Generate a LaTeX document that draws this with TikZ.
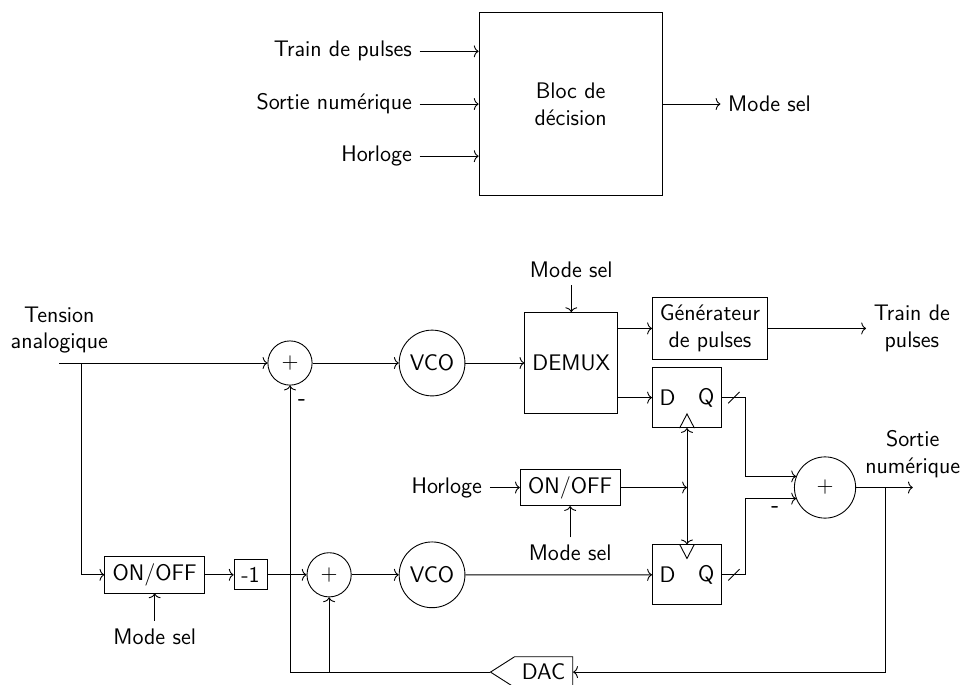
\documentclass[tikz,border=0pt]{standalone}
\usepackage{amsmath,amssymb}
\usetikzlibrary{arrows.meta,positioning,shapes.symbols}

\begin{document}
\begin{tikzpicture}[font=\fontsize{11.3}{13.5}\selectfont\sffamily,line width=0.45pt,
  >={Computer Modern Rightarrow[length=2.4pt,width=6pt]},inner sep=3.67pt,
  box/.style={draw,align=center,inner sep=0pt},
  sum/.style={draw,circle,minimum size=7.8mm,inner sep=0pt},
  vco/.style={draw,circle,minimum size=11.6mm,inner sep=0pt},
  onoff/.style={box,minimum width=17.6mm,minimum height=6.4mm},
  flop/.style={box,minimum width=12.2mm,minimum height=10.6mm},
  label/.style={align=center},
  minus/.style={font=\fontsize{11.3}{13.5}\selectfont\sffamily\bfseries}]
\useasboundingbox (0,0) rectangle (169.86mm,-120.65mm);
% decision block
\node[box,minimum size=32.3mm,align=center] (bloc) at (100.65mm,-18.35mm)
  {Bloc de\\ décision};
\node[label,left=10.4mm of bloc.west,yshift=9.3mm] (intrain) {Train de pulses};
\node[label,left=10.4mm of bloc.west] (insortie) {Sortie numérique};
\node[label,left=10.4mm of bloc.west,yshift=-9.2mm] (inhorloge) {Horloge};
\node[label,right=10.2mm of bloc.east] (outmode) {Mode sel};
\draw[->] (intrain) -- (intrain -| bloc.west);
\draw[->] (insortie) -- (insortie -| bloc.west);
\draw[->] (inhorloge) -- (inhorloge -| bloc.west);
\draw[->] (bloc) -- (outmode);
% upper branch
\node[sum] (sumh) at (51.15mm,-64.03mm) {$+$};
\node[vco,right=15.2mm of sumh] (vcoh) {VCO};
\node[box,right=10.4mm of vcoh,minimum width=16.4mm,minimum height=17.8mm] (demux) {DEMUX};
\node[label,above=4.7mm of demux] (modedemux) {Mode sel};
\node[box,right=5.95mm of demux.east,yshift=6.1mm,minimum width=20.3mm,minimum height=11mm] (gen)
  {Générateur\\ de pulses};
\node[flop,right=5.95mm of demux.east,yshift=-6.1mm] (dffh) {};
\node[right] (dh) at (dffh.west) {D};
\node[left] (qh) at (dffh.east) {Q};
\node[label,right=17.3mm of gen] (outtrain) {Train de\\ pulses};
\coordinate[left=36.7mm of sumh.west] (in);
\node[label,above=0.3mm of in] (tension) {Tension\\ analogique};
% clocked part
\node[box,onoff,below=9.7mm of demux,xshift=-0.2mm] (onoffm) {ON/OFF};
\node[label,left=5.3mm of onoffm] (horloge) {Horloge};
\node[label,below=5.5mm of onoffm] (modeonoff) {Mode sel};
\node[flop,below=20.5mm of dffh] (dffb) {};
\node[right] (db) at (dffb.west) {D};
\node[left] (qb) at (dffb.east) {Q};
\node[sum,right=30.6mm of onoffm,minimum size=10.8mm] (sumn) {$+$};
\coordinate[right=10mm of sumn.east] (out);
\coordinate[right=5.1mm of sumn.east] (tap);
\node[label,above=0.3mm of out] (sortie) {Sortie\\ numérique};
% lower branch
\node[vco,below=25.6mm of vcoh] (vcob) {VCO};
\node[sum,left=8.3mm of vcob] (sumb) {$+$};
\node[box,left=6.9mm of sumb,minimum width=5.8mm,minimum height=5.3mm] (neg) {-1};
\node[box,onoff,left=5.05mm of neg] (onoffb) {ON/OFF};
\node[label,below=4.85mm of onoffb] (modeb) {Mode sel};
\coordinate[left=4mm of onoffb.west] (branch);
\node[draw,signal,signal to=west,signal pointer angle=65,inner sep=0pt,minimum width=14.5mm,minimum height=5.4mm,
  below left=9mm and 13.9mm of dffb.south west] (dac) {DAC};
% connectors
\draw[->] (modedemux) -- (demux);
\draw[->] (in) -- (sumh);
\draw[->] (sumh) -- (vcoh);
\draw[->] (vcoh) -- (demux);
\draw[->] (demux.east |- gen) -- (gen);
\draw[->] (demux.east |- dffh) -- (dffh);
\draw[->] (gen) -- (outtrain);
\draw[->] (horloge) -- (onoffm);
\draw[->] (modeonoff) -- (onoffm);
\draw[->] (onoffm) -- (onoffm -| dffh.south);
\draw[<->] (dffh.south) -- (dffb.north);
\draw[->] (branch |- in) -- (branch) -- (onoffb);
\draw[->] (modeb) -- (onoffb);
\draw[->] (onoffb) -- (neg);
\draw[->] (neg) -- (sumb);
\draw[->] (sumb) -- (vcob);
\draw[->] (vcob) -- (dffb);
\draw[->] (sumn) -- (out);
\draw[->] (tap) |- (dac.east);
\draw[->] (dac.west) -| node[minus,pos=0.97,right]{-} (sumh);
\draw[->] (sumb |- dac.west) -- (sumb);
\draw[->] (dffh.east) -- ++(4.06mm,0) |- (sumn.159);
\draw[->] (dffb.east) -- ++(4.06mm,0) |- node[minus,pos=0.795,below]{-} (sumn.201);
% clock triangles and bus marks
\draw ([xshift=-1.3mm]dffh.south) -- ([yshift=2.5mm]dffh.south) -- ([xshift=1.3mm]dffh.south);
\draw ([xshift=-1.3mm]dffb.north) -- ([yshift=-2.5mm]dffb.north) -- ([xshift=1.3mm]dffb.north);
\foreach \flop in {dffh,dffb}
  \draw ([shift={(1.1mm,-1mm)}]\flop.east) -- ([shift={(3.1mm,1mm)}]\flop.east);
\end{tikzpicture}
\end{document}
